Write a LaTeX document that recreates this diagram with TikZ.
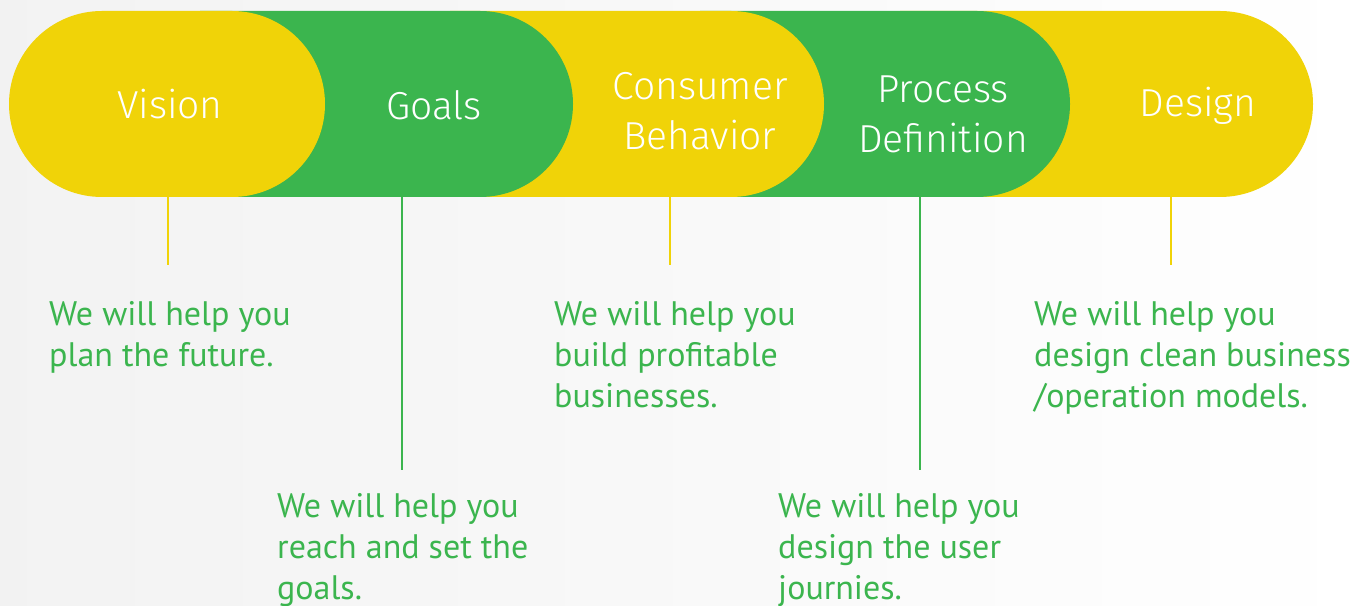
\documentclass[tikz,border=0pt]{standalone}
\usepackage{fontspec}
\setmainfont{PT Sans}
\newfontfamily\titlefont{Fira Sans Light}
\definecolor{yel}{HTML}{F0D308}
\definecolor{grn}{HTML}{3BB54E}
\tikzset{
  ttl/.style={font=\titlefont\fontsize{39}{50}\selectfont, text=white, align=center, inner sep=0pt, anchor=base},
  desc/.style={font=\fontsize{34}{41}\selectfont, text=grn, align=left, inner sep=0pt, anchor=base west},
  yline/.style={draw=yel, line width=2pt},
  gline/.style={draw=grn, line width=2pt}
}
\begin{document}
\begin{tikzpicture}[x=1pt,y=1pt]
\useasboundingbox (0,0) rectangle (1370,605);
\shade[left color=black!5, right color=white] (0,0) rectangle (1370,605);
% pills, back to front
\fill[yel] (900,594) -- (1220,594) arc[start angle=90,end angle=-90,radius=93pt] -- (900,408) -- cycle;
\fill[grn] (700,594) -- (977,594) arc[start angle=90,end angle=-90,radius=93pt] -- (700,408) -- cycle;
\fill[yel] (450,594) -- (731,594) arc[start angle=90,end angle=-90,radius=93pt] -- (450,408) -- cycle;
\fill[grn] (200,594) -- (480,594) arc[start angle=90,end angle=-90,radius=93pt] -- (200,408) -- cycle;
\fill[yel] (102,594) -- (232,594) arc[start angle=90,end angle=-90,radius=93pt] -- (102,408) arc[start angle=270,end angle=90,radius=93pt] -- cycle;
% titles (base = baseline of last line)
\node[ttl] (tv) at (170,486) {Vision};
\node[ttl] (tg) at (434,485) {Goals};
\node[ttl] (tc) at (700,455) {Consumer\\Behavior};
\node[ttl] (tp) at (943,452) {Process\\Definition};
\node[ttl] (td) at (1198,488) {Design};
% connectors
\coordinate (v1) at (168,408); \coordinate (v2) at (168,340);
\coordinate (g1) at (402,408); \coordinate (g2) at (402,135);
\coordinate (c1) at (670,408); \coordinate (c2) at (670,340);
\coordinate (p1) at (920,408); \coordinate (p2) at (920,135);
\coordinate (d1) at (1171,408); \coordinate (d2) at (1171,340);
\draw[yline] (v1) -- (v2);
\draw[gline] (g1) -- (g2);
\draw[yline] (c1) -- (c2);
\draw[gline] (p1) -- (p2);
\draw[yline] (d1) -- (d2);
% descriptions (base = baseline of last line)
\node[desc] (dv) at (49,238) {We will help you\\plan the future.};
\node[desc] (dg) at (277,6) {We will help you\\reach and set the\\goals.};
\node[desc] (dc) at (554,197) {We will help you\\build profitable\\businesses.};
\node[desc] (dp) at (778,6) {We will help you\\design the user\\journies.};
\node[desc] (dd) at (1034,197) {We will help you\\design clean business\\/operation models.};
\end{tikzpicture}
\end{document}
